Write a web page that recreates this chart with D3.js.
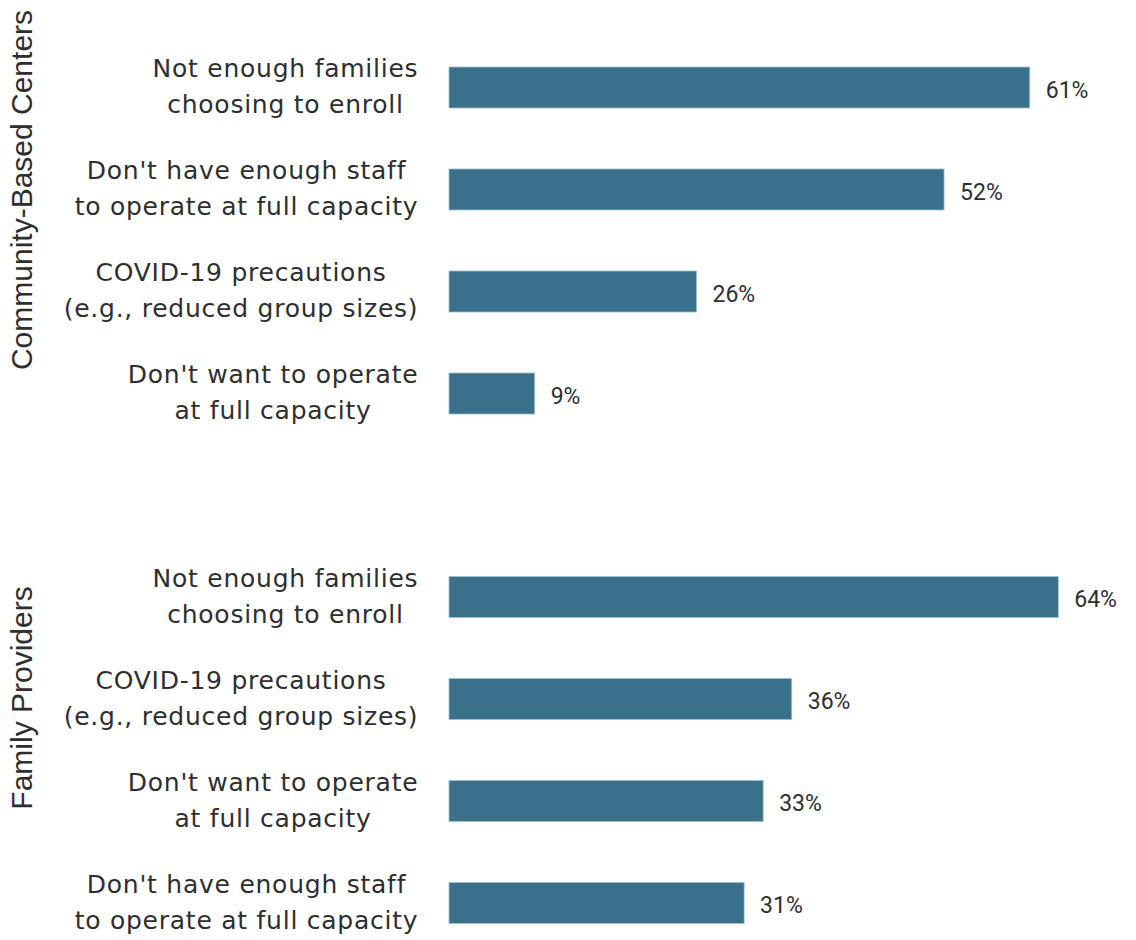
<!DOCTYPE html>
<html>
<head>
<meta charset="utf-8">
<script src="https://cdn.jsdelivr.net/npm/d3@7"></script>
<style>
  html, body { margin: 0; padding: 0; background: #ffffff; }
  svg { display: block; }
</style>
</head>
<body>
<svg id="chart" width="1136" height="940"></svg>
<script>
// Reasons programs are not operating at full capacity, by provider type
const groupNames = ["Community-Based Centers", "Family Providers"];

const centerReasons = [
  ["Not enough families", "choosing to enroll"],
  ["Don't have enough staff", "to operate at full capacity"],
  ["COVID-19 precautions", "(e.g., reduced group sizes)"],
  ["Don't want to operate", "at full capacity"]
];
const centerValues = [61, 52, 26, 9];

const familyReasons = [
  ["Not enough families", "choosing to enroll"],
  ["COVID-19 precautions", "(e.g., reduced group sizes)"],
  ["Don't want to operate", "at full capacity"],
  ["Don't have enough staff", "to operate at full capacity"]
];
const familyValues = [64, 36, 33, 31];

const panels = [
  { name: groupNames[0], reasons: centerReasons, values: centerValues, yRange: [87.5, 393.5], titleY: 190 },
  { name: groupNames[1], reasons: familyReasons, values: familyValues, yRange: [597, 903], titleY: 698 }
];

const svg = d3.select("#chart");
const barColor = "#3a7089";
const textColor = "#2e2e2e";
const barH = 41;
const labelRight = 418;
const labelFont = "'DejaVu Sans', 'Open Sans', sans-serif";
const labelSize = 25;
const widestTarget = 343;

const x = d3.scaleLinear().domain([0, 100]).range([449, 1401]);

// letter spacing so the widest category line spans the intended width
const probe = svg.append("text")
  .style("font-family", labelFont)
  .style("font-size", labelSize + "px")
  .text("to operate at full capacity");
const probeW = probe.node().getComputedTextLength();
const probeChars = probe.text().length;
probe.remove();
const spacing = (widestTarget - probeW) / (probeChars - 1);

panels.forEach(p => {
  const y = d3.scalePoint()
    .domain(p.reasons.map((r, i) => i))
    .range(p.yRange);

  const g = svg.append("g");

  // group title, rotated
  svg.append("text")
    .attr("transform", `translate(32,${p.titleY}) rotate(-90)`)
    .attr("text-anchor", "middle")
    .style("font-family", "'Liberation Sans', Arial, sans-serif")
    .style("font-size", "30px")
    .style("fill", textColor)
    .text(p.name);

  // bars
  g.selectAll("rect")
    .data(p.values)
    .join("rect")
    .attr("x", x(0))
    .attr("y", (d, i) => y(i) - barH / 2)
    .attr("width", d => x(d) - x(0))
    .attr("height", barH)
    .attr("fill", barColor)
    .attr("stroke", "#9fc0cf")
    .attr("stroke-width", 0.8);

  // value labels
  g.selectAll("text.value")
    .data(p.values)
    .join("text")
    .attr("class", "value")
    .attr("x", d => x(d) + 16)
    .attr("y", (d, i) => y(i) + 10)
    .style("font-family", "Roboto, sans-serif")
    .style("font-size", "23px")
    .style("fill", textColor)
    .text(d => d + "%");

  // two-line category labels, lines centred on each other, block right-aligned
  p.reasons.forEach((lines, i) => {
    const t = g.append("text")
      .attr("text-anchor", "middle")
      .style("font-family", labelFont)
      .style("font-size", labelSize + "px")
      .style("letter-spacing", spacing + "px")
      .style("fill", textColor);
    const spans = lines.map((line, k) =>
      t.append("tspan")
        .attr("y", y(i) + (k === 0 ? -10.5 : 25.5))
        .text(line));
    const maxW = d3.max(spans, s => s.node().getComputedTextLength());
    // trailing spacing after the last glyph is not ink, shift it past the edge
    spans.forEach(s => s.attr("x", labelRight + spacing / 2 - maxW / 2));
  });
});
</script>
</body>
</html>
